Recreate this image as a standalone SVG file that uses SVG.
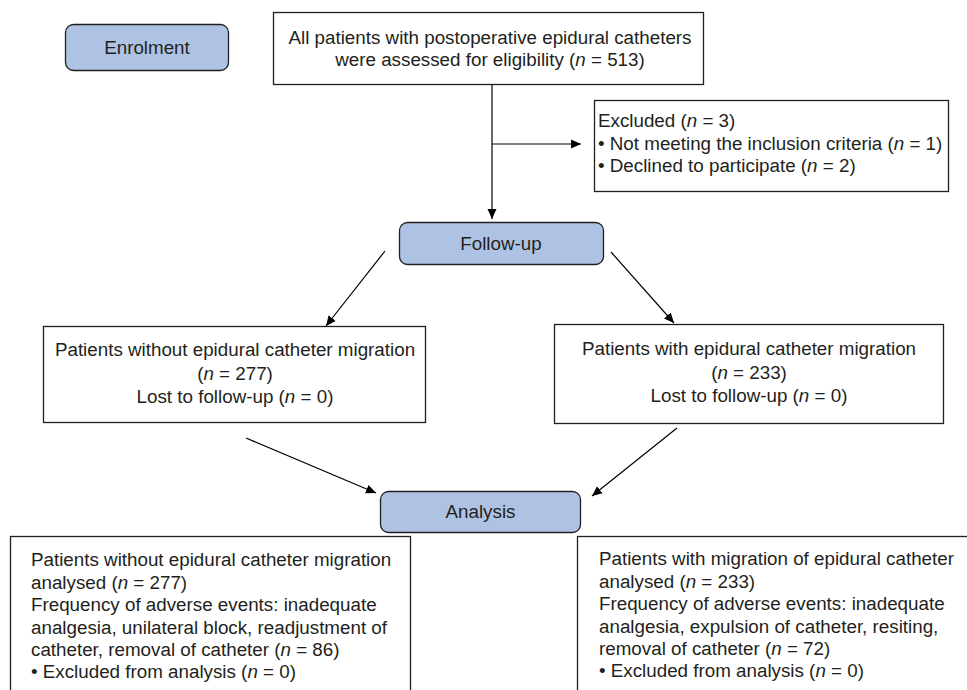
<svg xmlns="http://www.w3.org/2000/svg" width="967" height="690" viewBox="0 0 967 690">
<style>
text{font-family:"Liberation Sans",Arial,sans-serif;font-size:18.8px;fill:#231f20}
.c{text-anchor:middle}
.box{fill:#fff;stroke:#231f20;stroke-width:1.3}
.stage{fill:#aec3e3;stroke:#231f20;stroke-width:1.3}
.ln{stroke:#000;stroke-width:1.2;fill:none;marker-end:url(#ah)}
</style>
<defs>
<marker id="ah" viewBox="0 0 10 10" refX="10" refY="5" markerWidth="10" markerHeight="10" markerUnits="userSpaceOnUse" orient="auto">
<path d="M0,0.5 L10,5 L0,9.5 Z" fill="#000"/>
</marker>
</defs>
<rect width="967" height="690" fill="#fff"/>
<g id="enrolment">
<rect class="stage" x="65.5" y="24.5" width="163" height="46" rx="8"/>
<text class="c" x="147" y="54">Enrolment</text>
</g>
<g id="assessed">
<rect class="box" x="273.5" y="12.5" width="430" height="72"/>
<text class="c" x="490" y="44">All patients with postoperative epidural catheters</text>
<text class="c" x="490" y="66">were assessed for eligibility (<tspan font-style="italic">n</tspan> = 513)</text>
</g>
<g id="excluded">
<rect class="box" x="594.5" y="100.5" width="354" height="91"/>
<text x="598" y="127">Excluded (<tspan font-style="italic">n</tspan> = 3)</text>
<text x="598" y="150">• Not meeting the inclusion criteria (<tspan font-style="italic">n</tspan> = 1)</text>
<text x="598" y="172">• Declined to participate (<tspan font-style="italic">n</tspan> = 2)</text>
</g>
<g id="followup">
<rect class="stage" x="399.5" y="222.5" width="204" height="42" rx="8"/>
<text class="c" x="501" y="250">Follow-up</text>
</g>
<g id="without">
<rect class="box" x="43.5" y="326.5" width="382" height="96"/>
<text class="c" x="235" y="356">Patients without epidural catheter migration</text>
<text class="c" x="235" y="380">(<tspan font-style="italic">n</tspan> = 277)</text>
<text class="c" x="235" y="403">Lost to follow-up (<tspan font-style="italic">n</tspan> = 0)</text>
</g>
<g id="with">
<rect class="box" x="554.5" y="324.5" width="389" height="99"/>
<text class="c" x="749" y="355">Patients with epidural catheter migration</text>
<text class="c" x="749" y="379">(<tspan font-style="italic">n</tspan> = 233)</text>
<text class="c" x="749" y="402">Lost to follow-up (<tspan font-style="italic">n</tspan> = 0)</text>
</g>
<g id="analysis">
<rect class="stage" x="380.5" y="491.5" width="200" height="41" rx="8"/>
<text class="c" x="480.5" y="518">Analysis</text>
</g>
<g id="analysed-without">
<rect class="box" x="10.5" y="536.5" width="400" height="170"/>
<text x="31" y="566">Patients without epidural catheter migration</text>
<text x="31" y="589">analysed (<tspan font-style="italic">n</tspan> = 277)</text>
<text x="31" y="611">Frequency of adverse events: inadequate</text>
<text x="31" y="634">analgesia, unilateral block, readjustment of</text>
<text x="31" y="656">catheter, removal of catheter (<tspan font-style="italic">n</tspan> = 86)</text>
<text x="31" y="678">• Excluded from analysis (<tspan font-style="italic">n</tspan> = 0)</text>
</g>
<g id="analysed-with">
<rect class="box" x="577.5" y="536.5" width="400" height="170"/>
<text x="599" y="565">Patients with migration of epidural catheter</text>
<text x="599" y="588">analysed (<tspan font-style="italic">n</tspan> = 233)</text>
<text x="599" y="610">Frequency of adverse events: inadequate</text>
<text x="599" y="633">analgesia, expulsion of catheter, resiting,</text>
<text x="599" y="655">removal of catheter (<tspan font-style="italic">n</tspan> = 72)</text>
<text x="599" y="677">• Excluded from analysis (<tspan font-style="italic">n</tspan> = 0)</text>
</g>
<g id="connectors">
<line class="ln" x1="492" y1="85" x2="492" y2="219"/>
<line class="ln" x1="492" y1="144" x2="581" y2="144"/>
<line class="ln" x1="385" y1="251" x2="326" y2="326"/>
<line class="ln" x1="611" y1="252" x2="674" y2="323"/>
<line class="ln" x1="246" y1="438" x2="376" y2="493"/>
<line class="ln" x1="677" y1="428" x2="592" y2="496"/>
</g>
</svg>
